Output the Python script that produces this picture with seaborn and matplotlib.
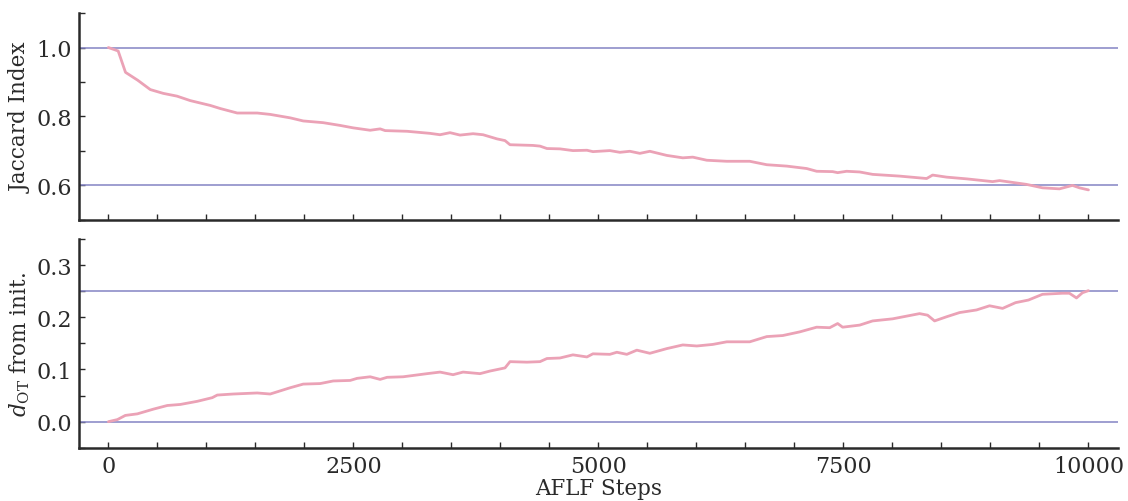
import matplotlib
matplotlib.use("Agg")
import matplotlib.pyplot as plt
import seaborn as sns
import pandas as pd
from matplotlib.ticker import MultipleLocator

# Values
jac_steps = [0, 100, 175, 300, 428, 560, 700, 836, 1040, 1142, 1315, 1519, 1651, 1855,
             1988, 2192, 2365, 2497, 2671, 2773, 2824, 3048, 3282, 3384, 3486, 3588,
             3721, 3823, 3965, 4047, 4098, 4332, 4404, 4475, 4608, 4740, 4883, 4944,
             5117, 5219, 5321, 5423, 5525, 5698, 5861, 5963, 6106, 6310, 6544, 6718,
             6922, 7125, 7227, 7390, 7441, 7533, 7666, 7798, 8073, 8349, 8410, 8553,
             8757, 9022, 9093, 9368, 9531, 9704, 9837, 9908, 10000]
jac_vals = [1.000, 0.990, 0.928, 0.905, 0.878, 0.867, 0.859, 0.846, 0.832, 0.823, 0.810,
            0.810, 0.806, 0.796, 0.787, 0.782, 0.774, 0.767, 0.760, 0.764, 0.759, 0.757,
            0.751, 0.747, 0.753, 0.746, 0.750, 0.747, 0.735, 0.730, 0.718, 0.716, 0.714,
            0.707, 0.706, 0.701, 0.702, 0.698, 0.701, 0.696, 0.699, 0.693, 0.699, 0.687,
            0.680, 0.682, 0.673, 0.670, 0.670, 0.660, 0.656, 0.649, 0.641, 0.640, 0.637,
            0.641, 0.639, 0.632, 0.627, 0.620, 0.630, 0.624, 0.619, 0.611, 0.614, 0.603,
            0.593, 0.590, 0.600, 0.593, 0.587]

dot_steps = [0, 92, 173, 296, 459, 601, 734, 907, 1060, 1111, 1274, 1519, 1651, 1855,
             1988, 2161, 2294, 2467, 2538, 2671, 2773, 2844, 3007, 3252, 3384, 3517,
             3619, 3792, 3894, 4047, 4098, 4271, 4404, 4475, 4608, 4740, 4883, 4944,
             5117, 5188, 5290, 5392, 5525, 5698, 5861, 6004, 6167, 6310, 6544, 6718,
             6881, 7054, 7227, 7360, 7441, 7492, 7666, 7798, 8002, 8277, 8359, 8430,
             8553, 8685, 8858, 8991, 9124, 9256, 9388, 9531, 9735, 9806, 9878, 9939, 10000]
dot_vals = [0.000, 0.004, 0.012, 0.015, 0.024, 0.031, 0.033, 0.039, 0.046, 0.051, 0.053,
            0.055, 0.053, 0.065, 0.072, 0.073, 0.078, 0.079, 0.083, 0.086, 0.081, 0.085,
            0.086, 0.092, 0.095, 0.090, 0.095, 0.092, 0.097, 0.103, 0.115, 0.114, 0.115,
            0.121, 0.122, 0.128, 0.124, 0.130, 0.129, 0.133, 0.129, 0.137, 0.131, 0.140,
            0.147, 0.145, 0.148, 0.153, 0.153, 0.163, 0.165, 0.172, 0.181, 0.180, 0.188,
            0.181, 0.185, 0.193, 0.197, 0.207, 0.204, 0.193, 0.201, 0.209, 0.214, 0.222,
            0.217, 0.228, 0.233, 0.244, 0.246, 0.246, 0.237, 0.247, 0.251]

jac_refs = [1.0, 0.6]
dot_refs = [0.0, 0.25]

sns.set_theme(style="ticks")
plt.rcParams["font.family"] = ["DejaVu Serif"]
plt.rcParams["mathtext.fontset"] = "dejavuserif"

line_color = "#eba2b6"
ref_color = "#8484c4"
spine_color = "#2a2a2a"

fig = plt.figure(figsize=(11.28, 5.02), dpi=100)
ax1 = fig.add_axes([0.070, 0.560, 0.921, 0.412])
ax2 = fig.add_axes([0.070, 0.106, 0.921, 0.416], sharex=ax1)

jac_df = pd.DataFrame({"step": jac_steps, "value": jac_vals})
dot_df = pd.DataFrame({"step": dot_steps, "value": dot_vals})

for ax, df, refs in [(ax1, jac_df, jac_refs), (ax2, dot_df, dot_refs)]:
    for r in refs:
        ax.axhline(r, color=ref_color, lw=1.1, zorder=1)
    sns.lineplot(data=df, x="step", y="value", ax=ax, color=line_color, lw=2.0, zorder=2)
    sns.despine(ax=ax)
    for s in ["left", "bottom"]:
        ax.spines[s].set_linewidth(1.8)
        ax.spines[s].set_color(spine_color)
    ax.tick_params(which="both", direction="in", length=4, width=1.0,
                   colors=spine_color, labelsize=16, pad=5)
    ax.xaxis.set_major_locator(MultipleLocator(2500))
    ax.xaxis.set_minor_locator(MultipleLocator(500))

ax1.set_xlim(-300, 10300)
ax1.set_ylim(0.5, 1.1)
ax1.yaxis.set_major_locator(MultipleLocator(0.2))
ax1.yaxis.set_minor_locator(MultipleLocator(0.1))
ax1.tick_params(labelbottom=False)
ax1.set_xlabel("")
ax1.set_ylabel("Jaccard Index", fontsize=15.5, color=spine_color, labelpad=3)

ax2.set_ylim(-0.05, 0.35)
ax2.yaxis.set_major_locator(MultipleLocator(0.1))
ax2.yaxis.set_minor_locator(MultipleLocator(0.05))
ax2.set_xlabel("AFLF Steps", fontsize=15.5, color=spine_color, labelpad=0)
ax2.set_ylabel(r"$d_{\mathrm{OT}}$ from init.", fontsize=15.5, color=spine_color, labelpad=3)

fig.savefig("out.png", dpi=100)
